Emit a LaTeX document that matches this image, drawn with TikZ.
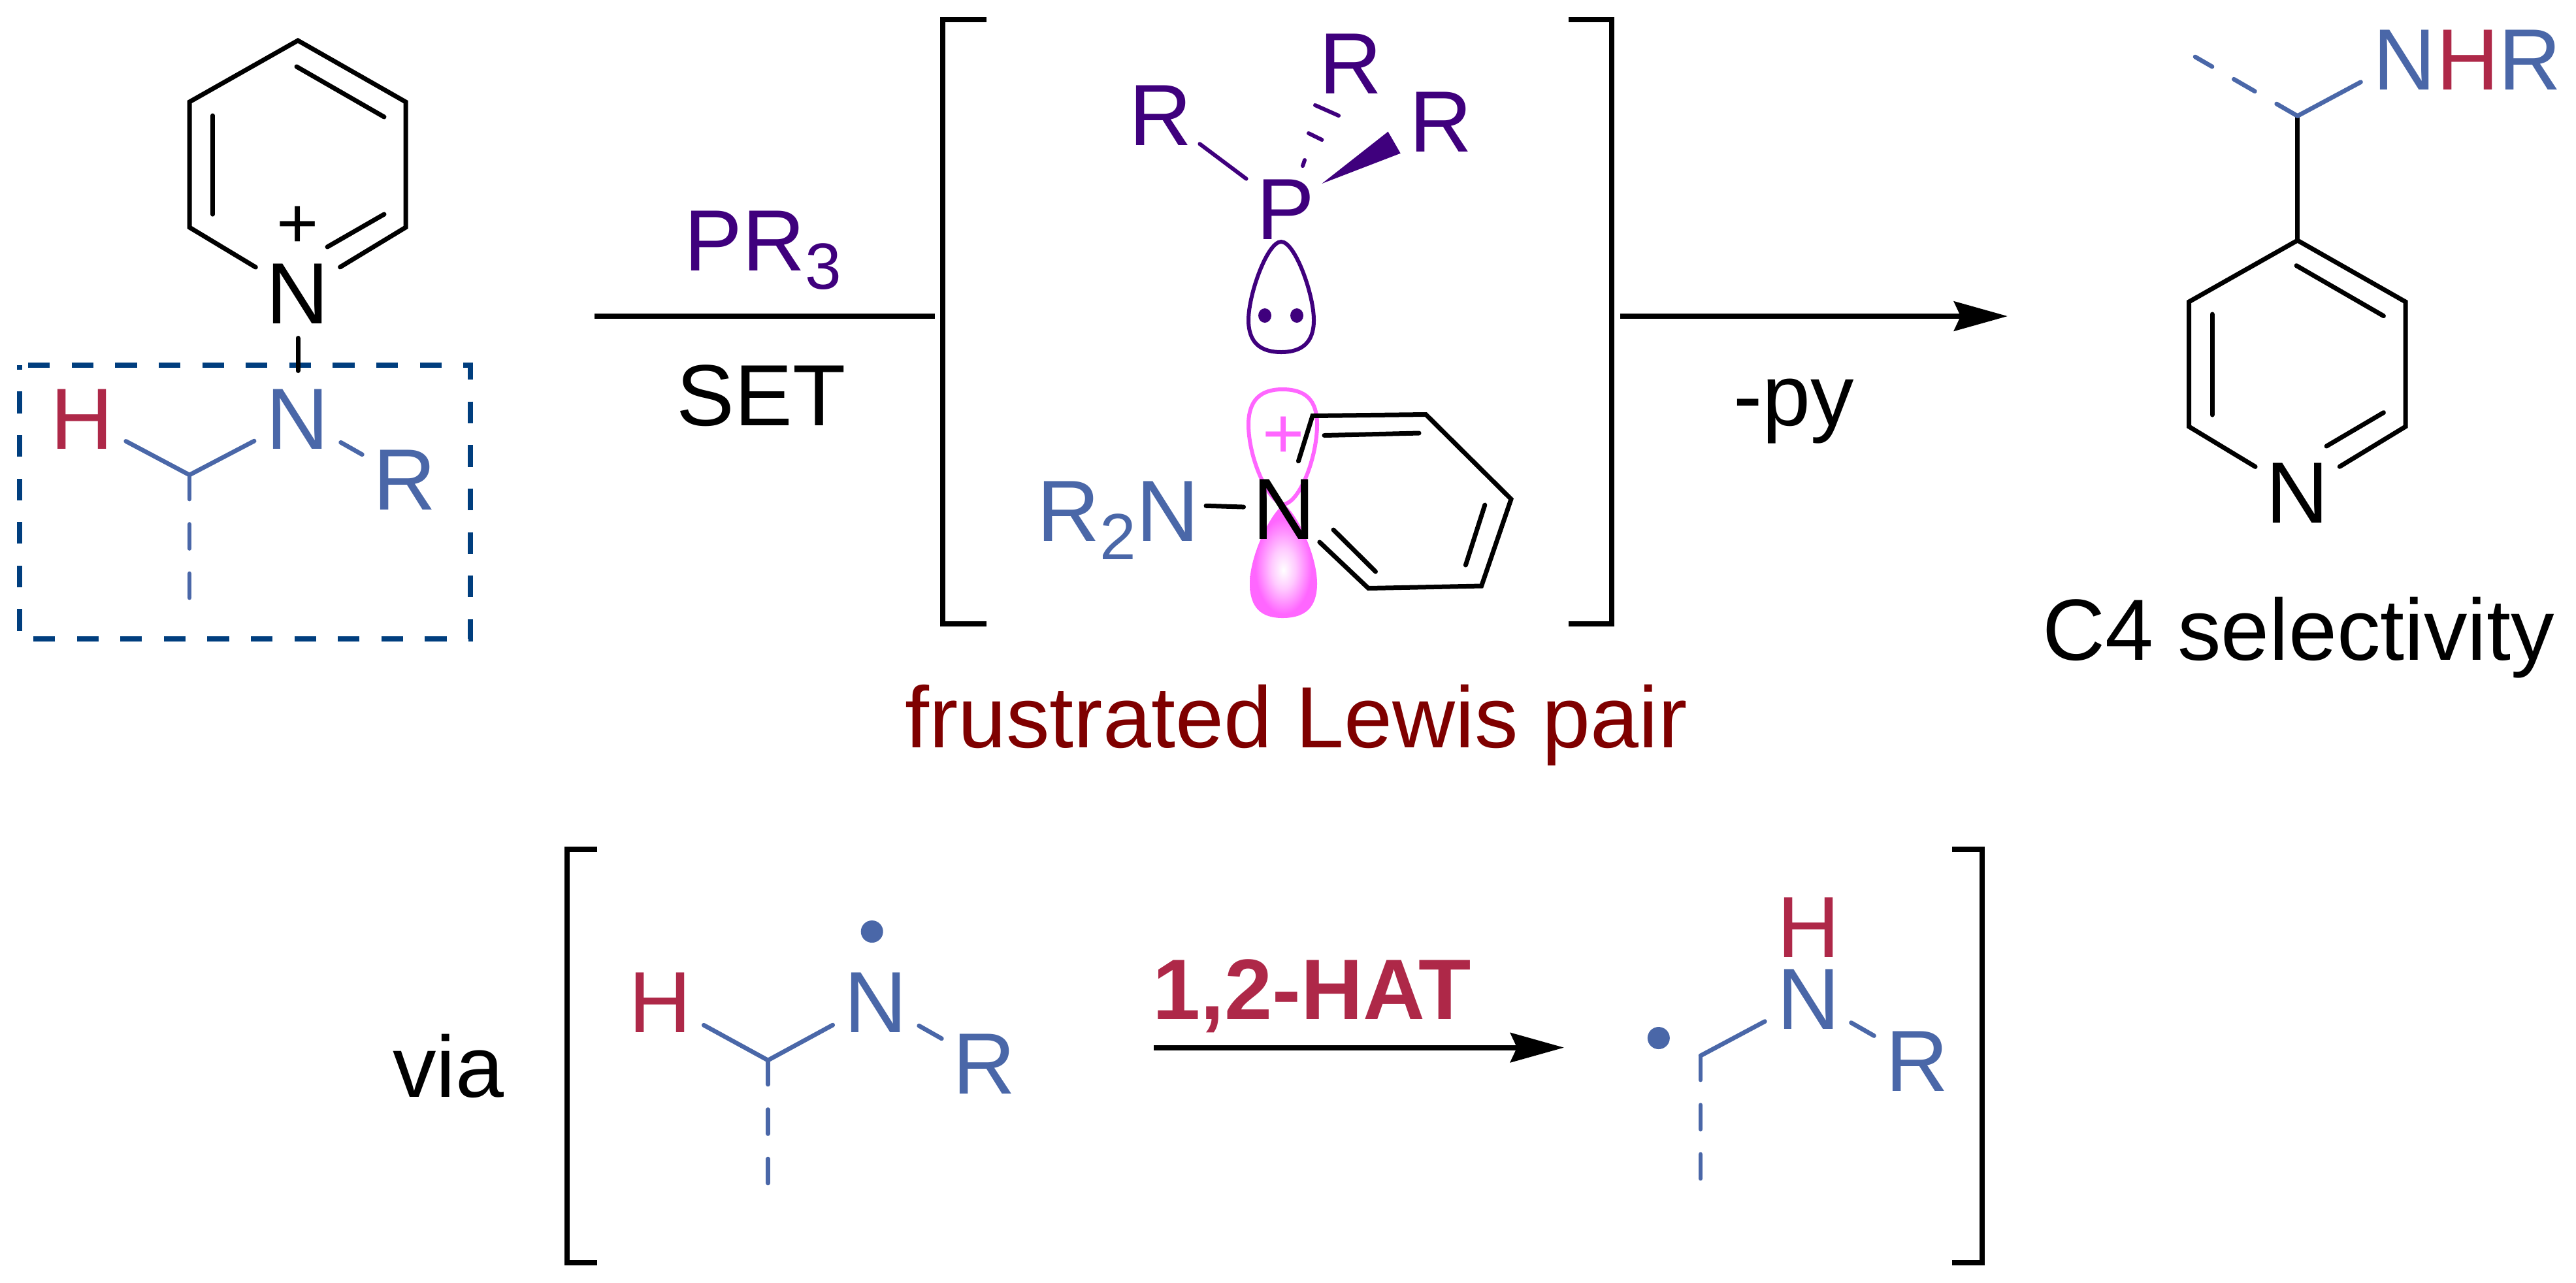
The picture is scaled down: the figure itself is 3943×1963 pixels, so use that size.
\documentclass[tikz,border=0pt]{standalone}
\usepackage{fontspec}
\setmainfont{Liberation Sans}
\usetikzlibrary{arrows.meta}

\definecolor{atomblue}{RGB}{74,103,168}
\definecolor{atomred}{RGB}{174,40,72}
\definecolor{lonepurple}{RGB}{63,0,125}
\definecolor{boxblue}{RGB}{0,62,126}
\definecolor{pairred}{RGB}{127,0,0}
\definecolor{lobepink}{RGB}{255,102,255}

\newcommand{\chemsize}{\fontsize{26.6}{30}\selectfont}
\newcommand{\lowidx}[1]{\raisebox{-5.7pt}{\fontsize{20}{24}\selectfont #1}}
\pgfdeclareradialshading{lobeshade}{\pgfpoint{0bp}{-4bp}}{color(0bp)=(white); color(9bp)=(white!65!lobepink); color(21bp)=(lobepink); color(50bp)=(lobepink)}

\tikzset{
  every picture/.style={line width=1.4pt},
  bond/.style={line width=1.4pt,line cap=round,line join=miter},
  bluebond/.style={bond,line width=1.35pt,color=atomblue},
  dashbond/.style={bluebond,dash pattern=on 7.4pt off 7.7pt},
  purplebond/.style={bond,line width=1.2pt,color=lonepurple},
  bracketline/.style={line width=1.6pt,line join=miter},
  rxnline/.style={line width=1.6pt},
  rxnarrow/.style={rxnline,-{Stealth[length=16.4pt,width=9pt,inset=2pt]}},
  boxline/.style={line width=1.6pt,color=boxblue,dash pattern=on 6.66pt off 6.66pt,dash phase=10.7pt},
  atom/.style={circle,inner sep=0pt,minimum size=28.8pt,font=\chemsize,text height=18.8pt,text depth=0pt},
  textlabel/.style={inner sep=0pt,anchor=base,font=\chemsize},
  plusmark/.style={inner sep=0pt,anchor=base,font=\fontsize{22}{24}\selectfont},
}

\begin{document}
\begin{tikzpicture}[x=0.2pt,y=0.2pt,yscale=-1,xscale=1]
    \path[use as bounding box] (0,0) rectangle (3943,1963);

    % Dashed box
    \coordinate (boxa) at (30,559);
    \coordinate (boxb) at (720,559);
    \coordinate (boxc) at (720,978);
    \coordinate (boxd) at (30,978);
    \draw[boxline] (boxa) -- (boxb) -- (boxc) -- (boxd) -- cycle;

    % Pyridinium at left
    \node[atom] (pyn) at (456,448) {N};
    \coordinate (pya) at (290,348);
    \coordinate (pyb) at (290,156);
    \coordinate (pyc) at (456,62);
    \coordinate (pyd) at (621,156);
    \coordinate (pye) at (621,348);
    \draw[bond] (pyn) -- (pya) -- (pyb) -- (pyc) -- (pyd) -- (pye) -- (pyn);
    \coordinate (pyf) at (325.5,177);
    \coordinate (pyg) at (325.5,328);
    \coordinate (pyh) at (454,102);
    \coordinate (pyi) at (588,179);
    \coordinate (pyj) at (501,378);
    \coordinate (pyk) at (588,328);
    \draw[bond] (pyf) -- (pyg);
    \draw[bond] (pyh) -- (pyi);
    \draw[bond] (pyj) -- (pyk);
    \node[plusmark] (pyplus) at (456,379) {+};

    % Amine fragment in the box
    \node[atom,text=atomblue] (amn) at (456,640) {N};
    \node[atom,text=atomred] (amh) at (126,640) {H};
    \node[atom,text=atomblue] (amr) at (620,733) {R};
    \coordinate (amc) at (290,727);
    \coordinate (amd) at (290,920);
    \draw[bond,shorten <=-1.2pt,shorten >=-0.6pt] (pyn) -- (amn);
    \draw[bluebond] (amh) -- (amc) -- (amn);
    \draw[bluebond] (amn) -- (amr);
    \draw[dashbond] (amc) -- (amd);

    % Reaction line and conditions
    \coordinate (lna) at (910,484);
    \coordinate (lnb) at (1431,484);
    \draw[rxnline] (lna) -- (lnb);
    \node[textlabel,text=lonepurple] (pr) at (1168,414) {PR\lowidx{3}};
    \node[textlabel] (set) at (1165,651) {SET};

    % Left and right brackets
    \coordinate (bla) at (1510,30);
    \coordinate (blb) at (1442.5,30);
    \coordinate (blc) at (1442.5,955);
    \coordinate (bld) at (1510,955);
    \draw[bracketline] (bla) -- (blb) -- (blc) -- (bld);
    \coordinate (bra) at (2401,30);
    \coordinate (brb) at (2467,30);
    \coordinate (brc) at (2467,955);
    \coordinate (brd) at (2401,955);
    \draw[bracketline] (bra) -- (brb) -- (brc) -- (brd);

    % Phosphine
    \node[atom,text=lonepurple] (pp) at (1968,319) {P};
    \node[atom,text=lonepurple] (pra) at (1776,175) {R};
    \node[atom,text=lonepurple] (prb) at (2067,96) {R};
    \node[atom,text=lonepurple] (prc) at (2205,185) {R};
    \draw[purplebond] (pra) -- (pp);
    \draw[purplebond] (1994,254) -- (1997,245);
    \draw[purplebond] (2003,204) -- (2023.4,214);
    \draw[purplebond] (2013,161) -- (2049,177);
    \fill[lonepurple] (2023.4,281) -- (2124.6,201.5) -- (2143.7,234.7) -- cycle;

    % Lone pair
    \draw[purplebond] (1961,370) .. controls (1940,370) and (1911,450) .. (1911,490) .. controls (1911,525) and (1930,539) .. (1961,539) .. controls (1992,539) and (2011,525) .. (2011,490) .. controls (2011,450) and (1982,370) .. (1961,370) -- cycle;
    \fill[lonepurple] (1936,483) ellipse (10 and 11);
    \fill[lonepurple] (1985,483) ellipse (10 and 11);

    % Empty orbital
    \shade[shading=lobeshade] (1965,772) .. controls (1945,785) and (1913,850) .. (1913,893) .. controls (1913,930) and (1930,946) .. (1963,946) .. controls (1998,946) and (2016,930) .. (2016,893) .. controls (2016,850) and (1985,785) .. (1965,772) -- cycle;
    \draw[bond,line width=1.2pt,color=lobepink] (1965,772) .. controls (1940,768) and (1911,700) .. (1911,650) .. controls (1911,612) and (1930,596) .. (1963,596) .. controls (1998,596) and (2016,612) .. (2016,650) .. controls (2016,700) and (1990,768) .. (1965,772) -- cycle;
    \node[plusmark,text=lobepink] (lobeplus) at (1965,701.5) {+};

    % Tilted pyridinium
    \node[atom] (tpn) at (1965,778) {N};
    \node[textlabel,anchor=base east,text=atomblue,text depth=0pt] (tpr) at (1839,828) {R\lowidx{2}N};
    \coordinate (tpa) at (2009,636.5);
    \coordinate (tpb) at (2182.5,634.5);
    \coordinate (tpc) at (2313,764);
    \coordinate (tpd) at (2267.6,897);
    \coordinate (tpe) at (2094.5,900.5);
    \draw[bond] (tpn) -- (tpa) -- (tpb) -- (tpc) -- (tpd) -- (tpe) -- (tpn);
    \coordinate (tpf) at (2027,666.5);
    \coordinate (tpg) at (2172,663);
    \coordinate (tph) at (2272.8,773);
    \coordinate (tpi) at (2243.4,865);
    \coordinate (tpj) at (2041,811);
    \coordinate (tpk) at (2105.5,875);
    \draw[bond] (tpf) -- (tpg);
    \draw[bond] (tph) -- (tpi);
    \draw[bond] (tpj) -- (tpk);
    \coordinate (tpq) at (1839,774);
    \draw[bond,shorten <=1.4pt,shorten >=-2.8pt] (tpq) -- (tpn);

    \node[textlabel,text=pairred] (flp) at (1984,1144) {frustrated Lewis pair};

    % Arrow to product
    \coordinate (ara) at (2480,484);
    \coordinate (arb) at (3073,484);
    \draw[rxnarrow] (ara) -- (arb);
    \node[textlabel] (py) at (2746,651) {-py};

    % Product
    \node[atom] (prn) at (3516.7,753.5) {N};
    \coordinate (prd) at (3350.5,653);
    \coordinate (pre) at (3350.5,462);
    \coordinate (prf) at (3516.7,368);
    \coordinate (prg) at (3682,462);
    \coordinate (prh) at (3682,653);
    \draw[bond] (prn) -- (prd) -- (pre) -- (prf) -- (prg) -- (prh) -- (prn);
    \coordinate (pri) at (3386,481);
    \coordinate (prj) at (3386,635);
    \coordinate (prk) at (3515,406.6);
    \coordinate (prl) at (3648.4,483.6);
    \coordinate (prm) at (3561,683);
    \coordinate (pro) at (3648.4,631.6);
    \draw[bond] (pri) -- (prj);
    \draw[bond] (prk) -- (prl);
    \draw[bond] (prm) -- (pro);
    \coordinate (prq) at (3516.7,177.5);
    \coordinate (prs) at (3360,87);
    \draw[bond] (prf) -- (prq);
    \node[atom,text=atomblue] (nhn) at (3680,90) {N};
    \node[atom,text=atomred] (nhh) at (3777,90) {H};
    \node[atom,text=atomblue] (nhr) at (3872,90) {R};
    \draw[bluebond] (prq) -- (nhn);
    \draw[dashbond] (prq) -- (prs);
    \node[textlabel] (csel) at (3518,1010) {C4 selectivity};

    % via bracket
    \node[textlabel] (via) at (686,1679) {via};
    \coordinate (bva) at (914,1300);
    \coordinate (bvb) at (868,1300);
    \coordinate (bvc) at (868,1933);
    \coordinate (bvd) at (914,1933);
    \draw[bracketline] (bva) -- (bvb) -- (bvc) -- (bvd);
    \coordinate (bwa) at (2988,1300);
    \coordinate (bwb) at (3033.6,1300);
    \coordinate (bwc) at (3033.6,1933);
    \coordinate (bwd) at (2988,1933);
    \draw[bracketline] (bwa) -- (bwb) -- (bwc) -- (bwd);

    % Aminyl radical
    \node[atom,text=atomred] (rah) at (1011,1533) {H};
    \node[atom,text=atomblue] (ran) at (1341,1533) {N};
    \node[atom,text=atomblue] (rar) at (1507,1627) {R};
    \coordinate (rac) at (1175.5,1623);
    \coordinate (rad) at (1175.5,1815);
    \draw[bluebond] (rah) -- (rac) -- (ran);
    \draw[bluebond] (ran) -- (rar);
    \draw[dashbond] (rac) -- (rad);
    \fill[atomblue] (1334.7,1426) circle (17);

    % 1,2-shift arrow
    \coordinate (hata) at (1766,1603.6);
    \coordinate (hatb) at (2394,1603.6);
    \draw[rxnarrow] (hata) -- (hatb);
    \node[textlabel,text=atomred,font=\fontsize{26.3}{30}\selectfont\bfseries] (hat) at (2008,1560) {1,2-HAT};

    % Carbon radical
    \node[atom,text=atomred] (cah) at (2768,1418) {H};
    \node[atom,text=atomblue] (can) at (2768,1528) {N};
    \node[atom,text=atomblue] (car) at (2934,1623) {R};
    \coordinate (cac) at (2603,1616);
    \coordinate (cad) at (2603,1810);
    \draw[bluebond] (cac) -- (can);
    \draw[bluebond] (can) -- (car);
    \draw[dashbond] (cac) -- (cad);
    \fill[atomblue] (2538.8,1589) circle (17);
\end{tikzpicture}
\end{document}
